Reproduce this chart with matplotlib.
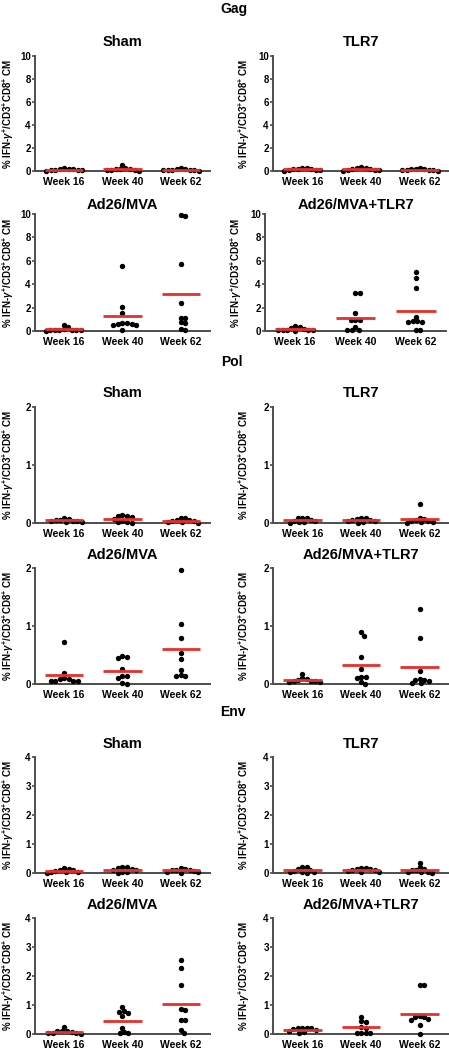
import numpy as np
import matplotlib
matplotlib.use('Agg')
import matplotlib.pyplot as plt

plt.rcParams['font.family'] = ['Liberation Sans', 'DejaVu Sans']
plt.rcParams['font.weight'] = 'bold'
plt.rcParams['mathtext.fontset'] = 'custom'
plt.rcParams['mathtext.rm'] = 'Liberation Sans:bold'
plt.rcParams['mathtext.it'] = 'Liberation Sans:italic:bold'
plt.rcParams['mathtext.bf'] = 'Liberation Sans:bold'

# ---------------- data ----------------
weeks = ['Week 16', 'Week 40', 'Week 62']
groups = ['Sham', 'TLR7', 'Ad26/MVA', 'Ad26/MVA+TLR7']
antigens = ['Gag', 'Pol', 'Env']
y_max = [10, 2, 4]
y_ticks = [[0, 2, 4, 6, 8, 10], [0, 1, 2], [0, 1, 2, 3, 4]]
y_label = r'% IFN-$\gamma^{+}$/CD3$^{+}$CD8$^{+}$ CM'

# Gag
gag_sham = [[0.25, 0.2, 0.15, 0.1, 0.1, 0.05, 0.02, 0.15, 0.12],
            [0.55, 0.25, 0.2, 0.15, 0.1, 0.05, 0.02, 0.1, 0.15],
            [0.3, 0.2, 0.15, 0.1, 0.05, 0.02, 0.1, 0.12, 0.08]]
gag_sham_mean = [0.12, 0.17, 0.12]
gag_tlr7 = [[0.3, 0.25, 0.2, 0.15, 0.1, 0.05, 0.02, 0.1, 0.15],
            [0.35, 0.3, 0.25, 0.2, 0.1, 0.05, 0.02, 0.15, 0.1],
            [0.3, 0.2, 0.15, 0.1, 0.05, 0.02, 0.1, 0.12, 0.15]]
gag_tlr7_mean = [0.15, 0.17, 0.13]
gag_ad26 = [[0.55, 0.3, 0.15, 0.1, 0.1, 0.05, 0.02, 0.05, 0.08, 0.12],
            [5.55, 2.05, 1.5, 0.7, 0.6, 0.55, 0.6, 0.5, 0.65, 0.05],
            [9.85, 9.95, 5.7, 2.4, 1.15, 1.15, 0.7, 0.75, 0.05, 0.15]]
gag_ad26_mean = [0.15, 1.28, 3.2]
gag_ad26_tlr7 = [[0.4, 0.3, 0.25, 0.15, 0.1, 0.05, 0.02, 0.05, 0.1, 0.08],
                 [3.25, 3.25, 1.5, 0.95, 0.95, 0.95, 0.3, 0.1, 0.05, 0.05],
                 [5.05, 4.55, 3.65, 1.2, 0.85, 0.8, 0.75, 0.85, 0.05, 0.05]]
gag_ad26_tlr7_mean = [0.15, 1.13, 1.75]

# Pol
pol_sham = [[0.08, 0.07, 0.05, 0.04, 0.03, 0.02, 0.01, 0.03, 0.05],
            [0.12, 0.13, 0.12, 0.1, 0.07, 0.04, 0.02, 0.0, 0.01],
            [0.09, 0.08, 0.06, 0.05, 0.03, 0.02, 0.0, 0.01, 0.04]]
pol_sham_mean = [0.045, 0.065, 0.04]
pol_tlr7 = [[0.09, 0.08, 0.09, 0.06, 0.03, 0.01, 0.0, 0.02, 0.04],
            [0.09, 0.08, 0.07, 0.06, 0.04, 0.02, 0.0, 0.03, 0.05],
            [0.32, 0.08, 0.07, 0.05, 0.03, 0.01, 0.0, 0.02, 0.04]]
pol_tlr7_mean = [0.05, 0.05, 0.065]
pol_ad26 = [[0.73, 0.19, 0.08, 0.06, 0.05, 0.05, 0.06, 0.08, 0.1],
            [0.48, 0.47, 0.44, 0.26, 0.13, 0.13, 0.1, 0.02, 0.0],
            [1.97, 1.04, 0.79, 0.53, 0.43, 0.24, 0.15, 0.13, 0.14]]
pol_ad26_mean = [0.155, 0.23, 0.6]
pol_ad26_tlr7 = [[0.18, 0.08, 0.07, 0.05, 0.04, 0.03, 0.05, 0.06, 0.1],
                 [0.89, 0.83, 0.47, 0.26, 0.12, 0.11, 0.12, 0.03, 0.0],
                 [1.3, 0.79, 0.23, 0.08, 0.07, 0.06, 0.07, 0.01, 0.02]]
pol_ad26_tlr7_mean = [0.07, 0.32, 0.29]

# Env
env_sham = [[0.17, 0.15, 0.12, 0.08, 0.05, 0.02, 0.0, 0.03, 0.1],
            [0.2, 0.19, 0.17, 0.15, 0.1, 0.05, 0.0, 0.03, 0.12],
            [0.16, 0.14, 0.12, 0.1, 0.06, 0.03, 0.0, 0.05, 0.12]]
env_sham_mean = [0.08, 0.11, 0.09]
env_tlr7 = [[0.2, 0.2, 0.15, 0.1, 0.05, 0.02, 0.0, 0.03, 0.08],
            [0.18, 0.17, 0.15, 0.12, 0.08, 0.05, 0.03, 0.1, 0.14],
            [0.35, 0.2, 0.15, 0.1, 0.05, 0.02, 0.0, 0.05, 0.1]]
env_tlr7_mean = [0.09, 0.11, 0.1]
env_ad26 = [[0.23, 0.12, 0.1, 0.08, 0.05, 0.02, 0.0, 0.03, 0.1],
            [0.92, 0.78, 0.72, 0.62, 0.75, 0.22, 0.08, 0.02, 0.02],
            [2.55, 2.27, 1.7, 0.85, 0.83, 0.5, 0.48, 0.15, 0.05]]
env_ad26_mean = [0.08, 0.44, 1.03]
env_ad26_tlr7 = [[0.22, 0.2, 0.2, 0.18, 0.15, 0.1, 0.05, 0.08, 0.2],
                 [0.6, 0.45, 0.4, 0.25, 0.22, 0.05, 0.03, 0.03, 0.02],
                 [1.68, 1.68, 0.62, 0.6, 0.58, 0.52, 0.5, 0.3, 0.0]]
env_ad26_tlr7_mean = [0.15, 0.25, 0.69]

panels = [
    [(gag_sham, gag_sham_mean), (gag_tlr7, gag_tlr7_mean),
     (gag_ad26, gag_ad26_mean), (gag_ad26_tlr7, gag_ad26_tlr7_mean)],
    [(pol_sham, pol_sham_mean), (pol_tlr7, pol_tlr7_mean),
     (pol_ad26, pol_ad26_mean), (pol_ad26_tlr7, pol_ad26_tlr7_mean)],
    [(env_sham, env_sham_mean), (env_tlr7, env_tlr7_mean),
     (env_ad26, env_ad26_mean), (env_ad26_tlr7, env_ad26_tlr7_mean)],
]

# ---------------- layout (pixels) ----------------
W, H = 449, 1050
row_px = [(56, 171), (214, 331), (407, 523), (568, 684), (757, 873), (918, 1034)]
col_px = [(35, 210), (273, 449)]
title_px = [42, 205, 393, 555, 744, 905]
section_px = [(234, 9), (232, 362), (233, 712)]

AXIS_C = '#4d4d4d'
RED = '#e8302a'

fig = plt.figure(figsize=(W / 100, H / 100), dpi=100)


def swarm(vals, w_px, h_px, ymax, d=4.3):
    vals = np.asarray(vals, dtype=float)
    sx = w_px / 3.0
    sy = h_px / ymax
    cand = [0.0]
    for k in range(1, 200):
        cand += [k * 0.5, -k * 0.5]
    placed = []
    offs = np.zeros(len(vals))
    for i in np.argsort(-vals, kind='stable'):
        y = vals[i] * sy
        for c in cand:
            if all((c - px) ** 2 + (y - py) ** 2 >= d * d for px, py in placed):
                break
        placed.append((c, y))
        offs[i] = c / sx
    return offs


for a, ant in enumerate(antigens):
    fig.text(section_px[a][0] / W, 1 - section_px[a][1] / H, ant,
             ha='center', va='center', fontsize=10, fontweight='bold')
    for g, grp in enumerate(groups):
        r = a * 2 + g // 2
        c = g % 2
        x0, x1 = col_px[c]
        if a == 0 and g == 3:
            x0, x1 = 265, 446
        yt, yb = row_px[r]
        ax = fig.add_axes([x0 / W, 1 - yb / H, (x1 - x0) / W, (yb - yt) / H])
        vals, means = panels[a][g]
        ymax = y_max[a]
        for i, v in enumerate(vals):
            offs = swarm(v, x1 - x0, yb - yt, ymax)
            ax.scatter(i + offs, v, s=15, color='black', zorder=3,
                       clip_on=False, linewidths=0)
            ax.hlines(means[i], i - 0.33, i + 0.33, color=RED, lw=2.0,
                      zorder=4, clip_on=False)
        ax.set_xlim(-0.5, 2.5)
        ax.set_ylim(0, ymax)
        ax.set_xticks(range(3))
        ax.set_xticklabels(weeks, fontsize=7.5, fontweight='bold')
        ax.set_yticks(y_ticks[a])
        ax.set_yticklabels([str(t) for t in y_ticks[a]], fontsize=7,
                           fontweight='bold')
        ax.tick_params(axis='x', length=0, pad=4, colors='black')
        ax.tick_params(axis='y', length=2.2, width=1.2, pad=0.8,
                       color=AXIS_C, labelcolor='black')
        for s in ['top', 'right']:
            ax.spines[s].set_visible(False)
        for s in ['left', 'bottom']:
            ax.spines[s].set_color(AXIS_C)
            ax.spines[s].set_linewidth(1.4)
        ax.patch.set_alpha(0)
        w_px = x1 - x0
        lab_off = 27 if c == 0 else 29
        ax.text(-lab_off / w_px, 0.5, y_label, transform=ax.transAxes,
                rotation=90, ha='center', va='center', fontsize=7,
                fontweight='bold')
        fig.text((x0 + x1) / 2 / W, 1 - title_px[r] / H, grp,
                 ha='center', va='center', fontsize=10.5, fontweight='bold')

fig.savefig('out.png', dpi=100)
